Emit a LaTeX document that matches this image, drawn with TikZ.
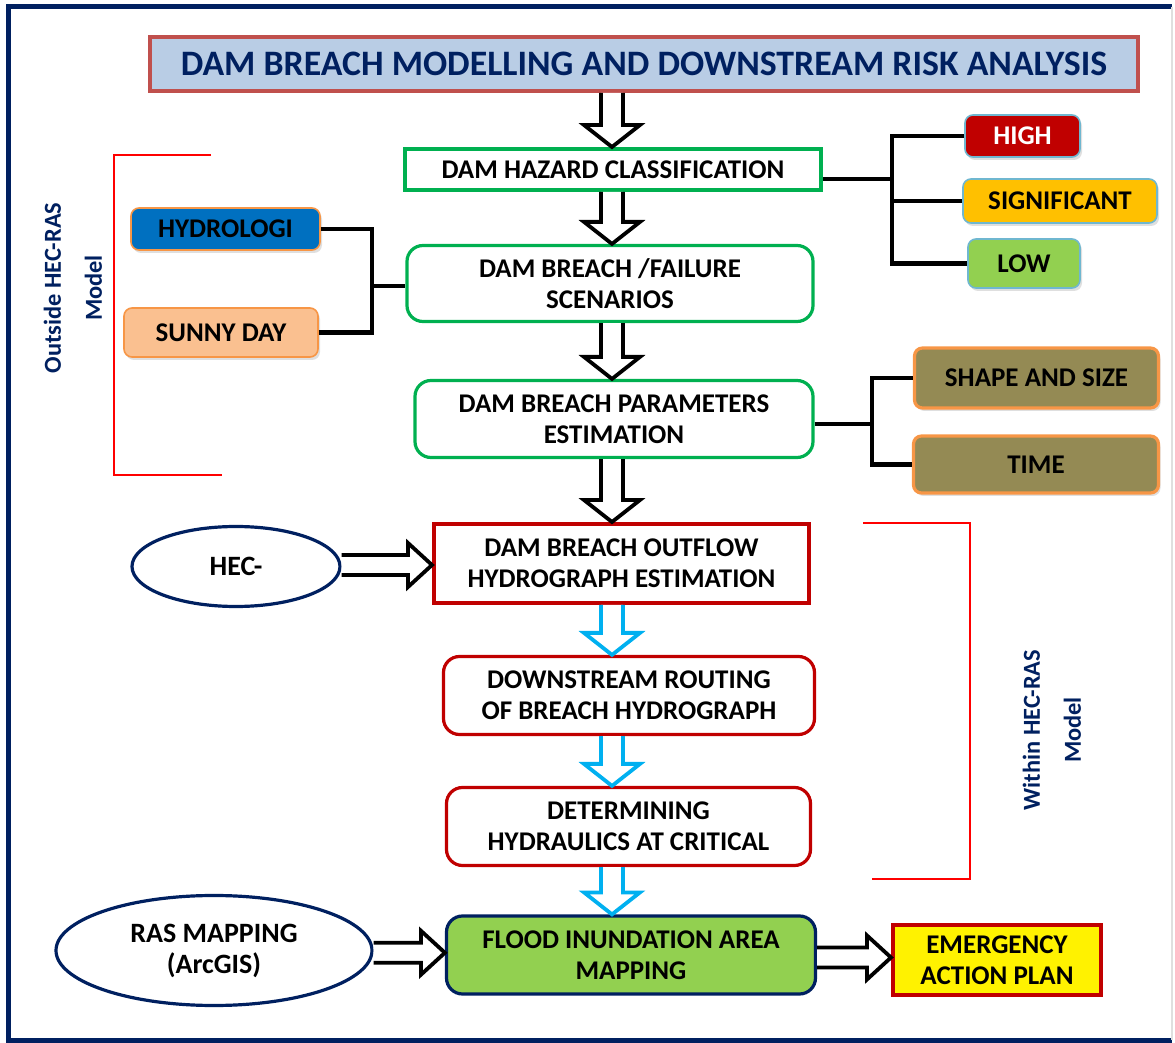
\documentclass[tikz,border=0pt]{standalone}
\usepackage{fontspec}
\setmainfont{Carlito}
\usetikzlibrary{positioning,calc,shapes.geometric,shadows}

\definecolor{navy}{HTML}{002060}
\definecolor{titlefill}{HTML}{B9CDE5}
\definecolor{titleedge}{HTML}{C0504D}
\definecolor{dgreen}{HTML}{00B050}
\definecolor{dred}{HTML}{C00000}
\definecolor{skyblue}{HTML}{00B0F0}
\definecolor{lgreen}{HTML}{92D050}
\definecolor{amber}{HTML}{FFC000}
\definecolor{tagedge}{HTML}{6FB7D0}
\definecolor{orangeedge}{HTML}{F79646}
\definecolor{blueone}{HTML}{0070C0}
\definecolor{peach}{HTML}{FAC090}
\definecolor{olive}{HTML}{948A54}

\tikzstyle{box}=[draw, line width=2pt, align=center, inner sep=0pt, text=black,
  font=\bfseries\fontsize{13.5}{15.5}\selectfont]
\tikzstyle{greenbox}=[box, draw=dgreen]
\tikzstyle{redbox}=[box, draw=dred]
\tikzstyle{tag}=[draw=tagedge, line width=0.8pt, rounded corners=4pt, inner sep=0pt,
  font=\bfseries\fontsize{13.5}{15.5}\selectfont,
  drop shadow={opacity=0.25, shadow xshift=1pt, shadow yshift=-1.5pt}]
\tikzstyle{oval}=[ellipse, draw=navy, line width=1.6pt, fill=white, inner sep=0pt,
  align=center, font=\bfseries\fontsize{14}{15.5}\selectfont]
\tikzstyle{sidelabel}=[rotate=90, align=center, text=navy,
  font=\bfseries\fontsize{12.2}{20.5}\selectfont]
\tikzstyle{tree}=[line width=2.2pt, line join=miter]
\tikzstyle{bracket}=[red, line width=0.9pt]

% hollow block arrows between two nodes
\newcommand{\downblock}[3]{%
  \filldraw[#1, fill=white, line width=1.9pt, line join=miter]
  let \p1=(#2.south), \p2=(#3.north), \p3=(spine) in
  (\x3-5.5pt,\y1) -- (\x3-5.5pt,\y2+11pt) -- (\x3-14pt,\y2+11pt) -- (\x3,\y2)
  -- (\x3+14pt,\y2+11pt) -- (\x3+5.5pt,\y2+11pt) -- (\x3+5.5pt,\y1);}
\newcommand{\rightblock}[3]{%
  \filldraw[#1, fill=white, line width=1.9pt, line join=miter]
  let \p1=(#2.east), \p2=(#3.west), \p3=($(#2.east)!0.5!(#3.west)$) in
  (\x1,\y3+5pt) -- (\x2-12pt,\y3+5pt) -- (\x2-12pt,\y3+11pt) -- (\x2,\y3)
  -- (\x2-12pt,\y3-11pt) -- (\x2-12pt,\y3-5pt) -- (\x1,\y3-5pt);}

\begin{document}
\begin{tikzpicture}[x=0.5pt, y=-0.5pt]
\useasboundingbox (0,0) rectangle (1175,1043);

\draw[navy, line width=2.5pt] (1172,7) -- (8,7) -- (8,1040) -- (1172,1040);
\draw[gray!25, line width=1pt] (1172,7) -- (1172,1040);

\coordinate (spine) at (612,0);

\node (title) at (644,64) [draw=titleedge, fill=titlefill, line width=2pt, inner sep=0pt,
  minimum width=494pt, minimum height=27pt, text=navy,
  font=\bfseries\fontsize{17.9}{20}\selectfont] {DAM BREACH MODELLING AND DOWNSTREAM RISK ANALYSIS};

\node (haz)     at (613,169.5) [greenbox, minimum width=208pt, minimum height=20.5pt] {DAM HAZARD CLASSIFICATION};
\node (fail)    at (610,283.5) [greenbox, rounded corners=8pt, line width=1.6pt, minimum width=203pt, minimum height=38pt] {DAM BREACH /FAILURE\\SCENARIOS};
\node (params)  at (614,419)   [greenbox, rounded corners=8pt, line width=1.6pt, minimum width=199pt, minimum height=38.5pt] {DAM BREACH PARAMETERS\\ESTIMATION};
\node (outflow) at (621.5,563.5) [redbox, minimum width=187.5pt, minimum height=39.5pt] {DAM BREACH OUTFLOW\\HYDROGRAPH ESTIMATION};
\node (routing) at (629,695.5) [redbox, rounded corners=8pt, line width=1.6pt, minimum width=185.5pt, minimum height=39pt] {DOWNSTREAM ROUTING\\OF BREACH HYDROGRAPH};
\node (determ)  at (628.5,826.5) [redbox, rounded corners=8pt, line width=1.6pt, minimum width=182pt, minimum height=39pt] {DETERMINING\\HYDRAULICS AT CRITICAL};
\node (flood)   at (631,955)   [box, draw=navy, fill=lgreen, rounded corners=8pt, line width=1.6pt, minimum width=184.5pt, minimum height=39pt] {FLOOD INUNDATION AREA\\MAPPING};
\node (eap)     at (997,960)   [box, draw=dred, fill=yellow, minimum width=104pt, minimum height=35pt] {EMERGENCY\\ACTION PLAN};

\node (hec) at (236,566.5) [oval, minimum width=104pt, minimum height=40pt] {HEC-};
\node (ras) at (214,950.5) [oval, minimum width=158pt, minimum height=55pt] {RAS MAPPING\\(ArcGIS)};

\node (high)  at (1022.5,136) [tag, fill=dred, text=white, minimum width=57.5pt, minimum height=21pt] {HIGH};
\node (sig)   at (1060,201)   [tag, fill=amber, minimum width=97pt, minimum height=22pt] {SIGNIFICANT};
\node (low)   at (1024,263.5) [tag, fill=lgreen, minimum width=56pt, minimum height=24.5pt] {LOW};
\node (hydro) at (225.5,229)  [tag, draw=orangeedge, fill=blueone, minimum width=94.5pt, minimum height=21pt] {HYDROLOGI};
\node (sunny) at (221,332.5)  [tag, draw=orangeedge, fill=peach, minimum width=97pt, minimum height=24.5pt] {SUNNY DAY};
\node (shape) at (1036.5,378) [tag, draw=orangeedge, line width=1.6pt, fill=olive, minimum width=122pt, minimum height=30pt] {SHAPE AND SIZE};
\node (timebox) at (1036,464.5) [tag, draw=orangeedge, line width=1.6pt, fill=olive, minimum width=122.5pt, minimum height=28.5pt] {TIME};

\node (outlbl) at (73,288)   [sidelabel] {Outside HEC-RAS\\Model};
\node (inlbl)  at (1052,730) [sidelabel] {Within HEC-RAS\\Model};

\draw[bracket] (211,155) -- (114,155) -- (114,475) -- (222,475);
\draw[bracket] (863,523) -- (970,523) -- (970,879) -- (872,879);

\coordinate (hazfork)  at (892,179);
\coordinate (leftfork) at (372,286);
\coordinate (parfork)  at (872,424);

\draw[tree] (hazfork -| haz.east) -- (hazfork);
\draw[tree] (high.west) -| (hazfork);
\draw[tree] (low.west) -| (hazfork);
\draw[tree] (sig.west) -- (sig.west -| hazfork);

\draw[tree] (hydro.east) -| (leftfork);
\draw[tree] (sunny.east) -| (leftfork);
\draw[tree] (leftfork) -- (leftfork -| fail.west);

\draw[tree] (parfork -| params.east) -- (parfork);
\draw[tree] (shape.west) -| (parfork);
\draw[tree] (timebox.west) -| (parfork);

\downblock{black}{title}{haz}
\downblock{black}{haz}{fail}
\downblock{black}{fail}{params}
\downblock{black}{params}{outflow}
\downblock{skyblue}{outflow}{routing}
\downblock{skyblue}{routing}{determ}
\downblock{skyblue}{determ}{flood}

\rightblock{black}{hec}{outflow}
\rightblock{black}{ras}{flood}
\rightblock{black}{flood}{eap}
\end{tikzpicture}
\end{document}
